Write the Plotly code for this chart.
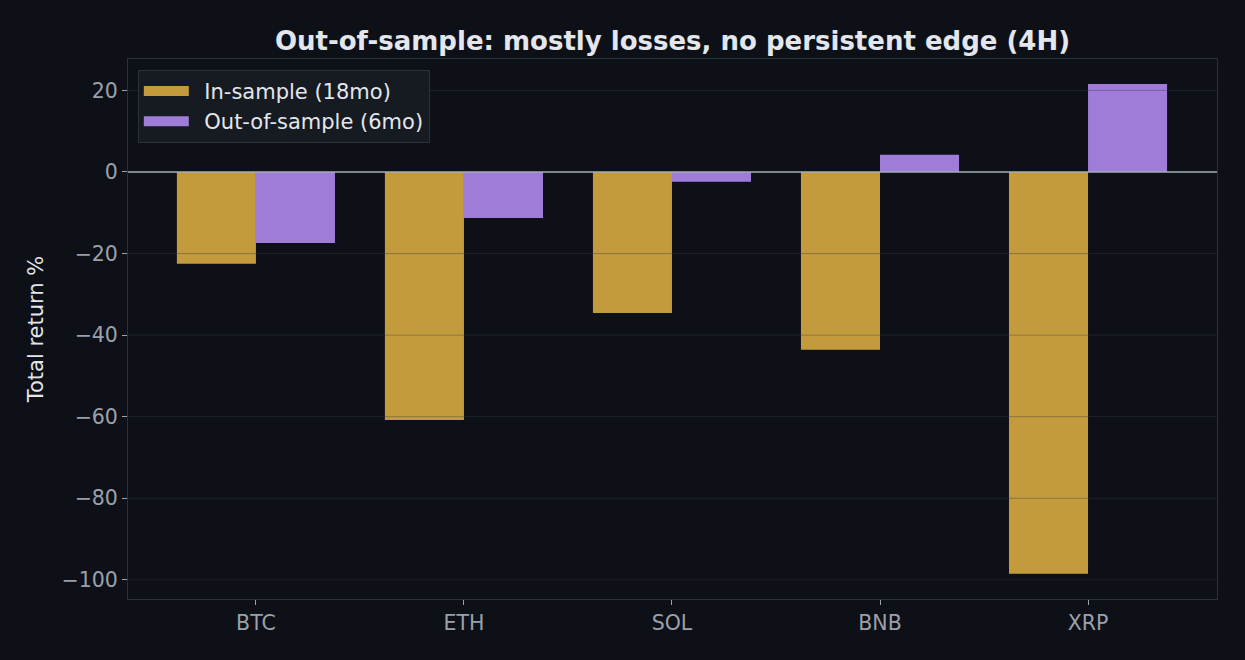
import plotly.graph_objects as go

coins = ["BTC", "ETH", "SOL", "BNB", "XRP"]
in_sample = [-22.5, -60.8, -34.6, -43.6, -98.5]
out_sample = [-17.4, -11.3, -2.4, 4.2, 21.6]
y_ticks = [-100, -80, -60, -40, -20, 20]

bg = "#0d1017"
grid = "rgba(58,62,70,0.4)"
tickcol = "#9ba1ab"
textcol = "#e3e6ec"
gold = "#c39b3c"
purple = "#a07cd9"

fig = go.Figure()
fig.add_trace(go.Bar(x=coins, y=in_sample, name="In-sample (18mo)",
                     marker=dict(color=gold, line=dict(width=0)), showlegend=False))
fig.add_trace(go.Bar(x=coins, y=out_sample, name="Out-of-sample (6mo)",
                     marker=dict(color=purple, line=dict(width=0)), showlegend=False))

# legend-only entries so the swatches look like wide matplotlib patches
for name, col in [("In-sample (18mo)", gold), ("Out-of-sample (6mo)", purple)]:
    fig.add_trace(go.Scatter(x=[None], y=[None], mode="lines", name="\u2002" + name,
                             line=dict(color=col, width=15)))

# grid drawn over the bars, like the matplotlib original
for v in y_ticks:
    fig.add_hline(y=v, line=dict(color=grid, width=1), layer="above")
fig.add_hline(y=0, line=dict(color="#a7adb6", width=1.5), layer="above")

fig.update_layout(
    width=1245, height=660,
    paper_bgcolor=bg, plot_bgcolor=bg,
    font=dict(family="DejaVu Sans", size=20, color=textcol),
    barmode="group", bargap=0.24, bargroupgap=0,
    margin=dict(l=128, r=28, t=59, b=61),
    title=dict(text="<b>Out-of-sample: mostly losses, no persistent edge (4H)</b>",
               x=0.5, xref="paper", y=1 - 41 / 660, yref="container",
               xanchor="center", yanchor="middle",
               font=dict(size=26, color=textcol)),
    legend=dict(x=0.009, y=0.98, xanchor="left", yanchor="top",
                bgcolor="#161a21", bordercolor="#2b3039", borderwidth=1,
                font=dict(size=21, color=textcol), itemwidth=45),
    showlegend=True,
)
fig.update_xaxes(range=[-0.615, 4.62], showgrid=False,
                 showline=True, linecolor="#2b3039", linewidth=1, mirror=True,
                 ticks="outside", ticklen=5, tickcolor=tickcol,
                 tickfont=dict(size=20.5, color=tickcol))
fig.update_yaxes(range=[-104.7, 27.7], dtick=20,
                 showgrid=False, zeroline=False,
                 showline=True, linecolor="#2b3039", linewidth=1, mirror=True,
                 ticks="outside", ticklen=5, tickcolor=tickcol,
                 tickfont=dict(size=20.5, color=tickcol),
                 title=dict(text="Total return %", font=dict(size=21, color=textcol),
                            standoff=12))

fig.write_html("out.html", config={"displayModeBar": False},
               post_script="document.body.style.margin='0';"
                           "document.body.style.background='#0d1017';")
